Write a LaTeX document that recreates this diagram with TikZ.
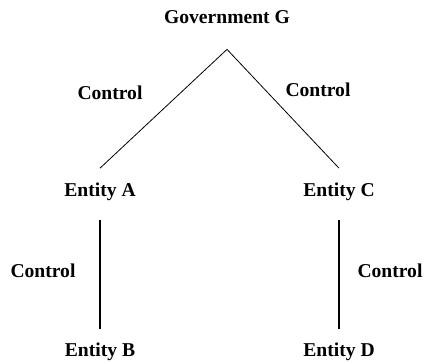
\documentclass[tikz,border=0pt]{standalone}
\usepackage{fontspec}
\setmainfont{Liberation Serif}

\begin{document}
\begin{tikzpicture}[x=1pt,y=1pt]

      \useasboundingbox (0,0) rectangle (425,363);

      \begin{scope}[every node/.style={font=\bfseries\fontsize{19.6}{23}\selectfont,anchor=base,inner sep=0pt}]
        \node (g)  at (227,339) {Government G};
        \node (a)  at (100,166) {Entity A};
        \node (c)  at (339,166) {Entity C};
        \node (b)  at (100,6)   {Entity B};
        \node (d)  at (339,6)   {Entity D};
        % labels on the links
        \node (ga) at (110,263) {Control};
        \node (gc) at (318,266) {Control};
        \node (ab) at (43,85)   {Control};
        \node (cd) at (390,85)  {Control};
      \end{scope}

      \coordinate (top) at ([yshift=-25pt]g.south);

      \begin{scope}[every edge/.style={draw,line width=0.8pt}]
        \path (top) edge ([yshift=15pt]a.north);
        \path (top) edge ([yshift=15pt]c.north);
      \end{scope}

      \begin{scope}[every edge/.style={draw,line width=1.5pt}]
        \path ([yshift=-19pt]a.south) edge ([yshift=14pt]b.north);
        \path ([yshift=-19pt]c.south) edge ([yshift=14pt]d.north);
      \end{scope}

    \end{tikzpicture}
\end{document}
